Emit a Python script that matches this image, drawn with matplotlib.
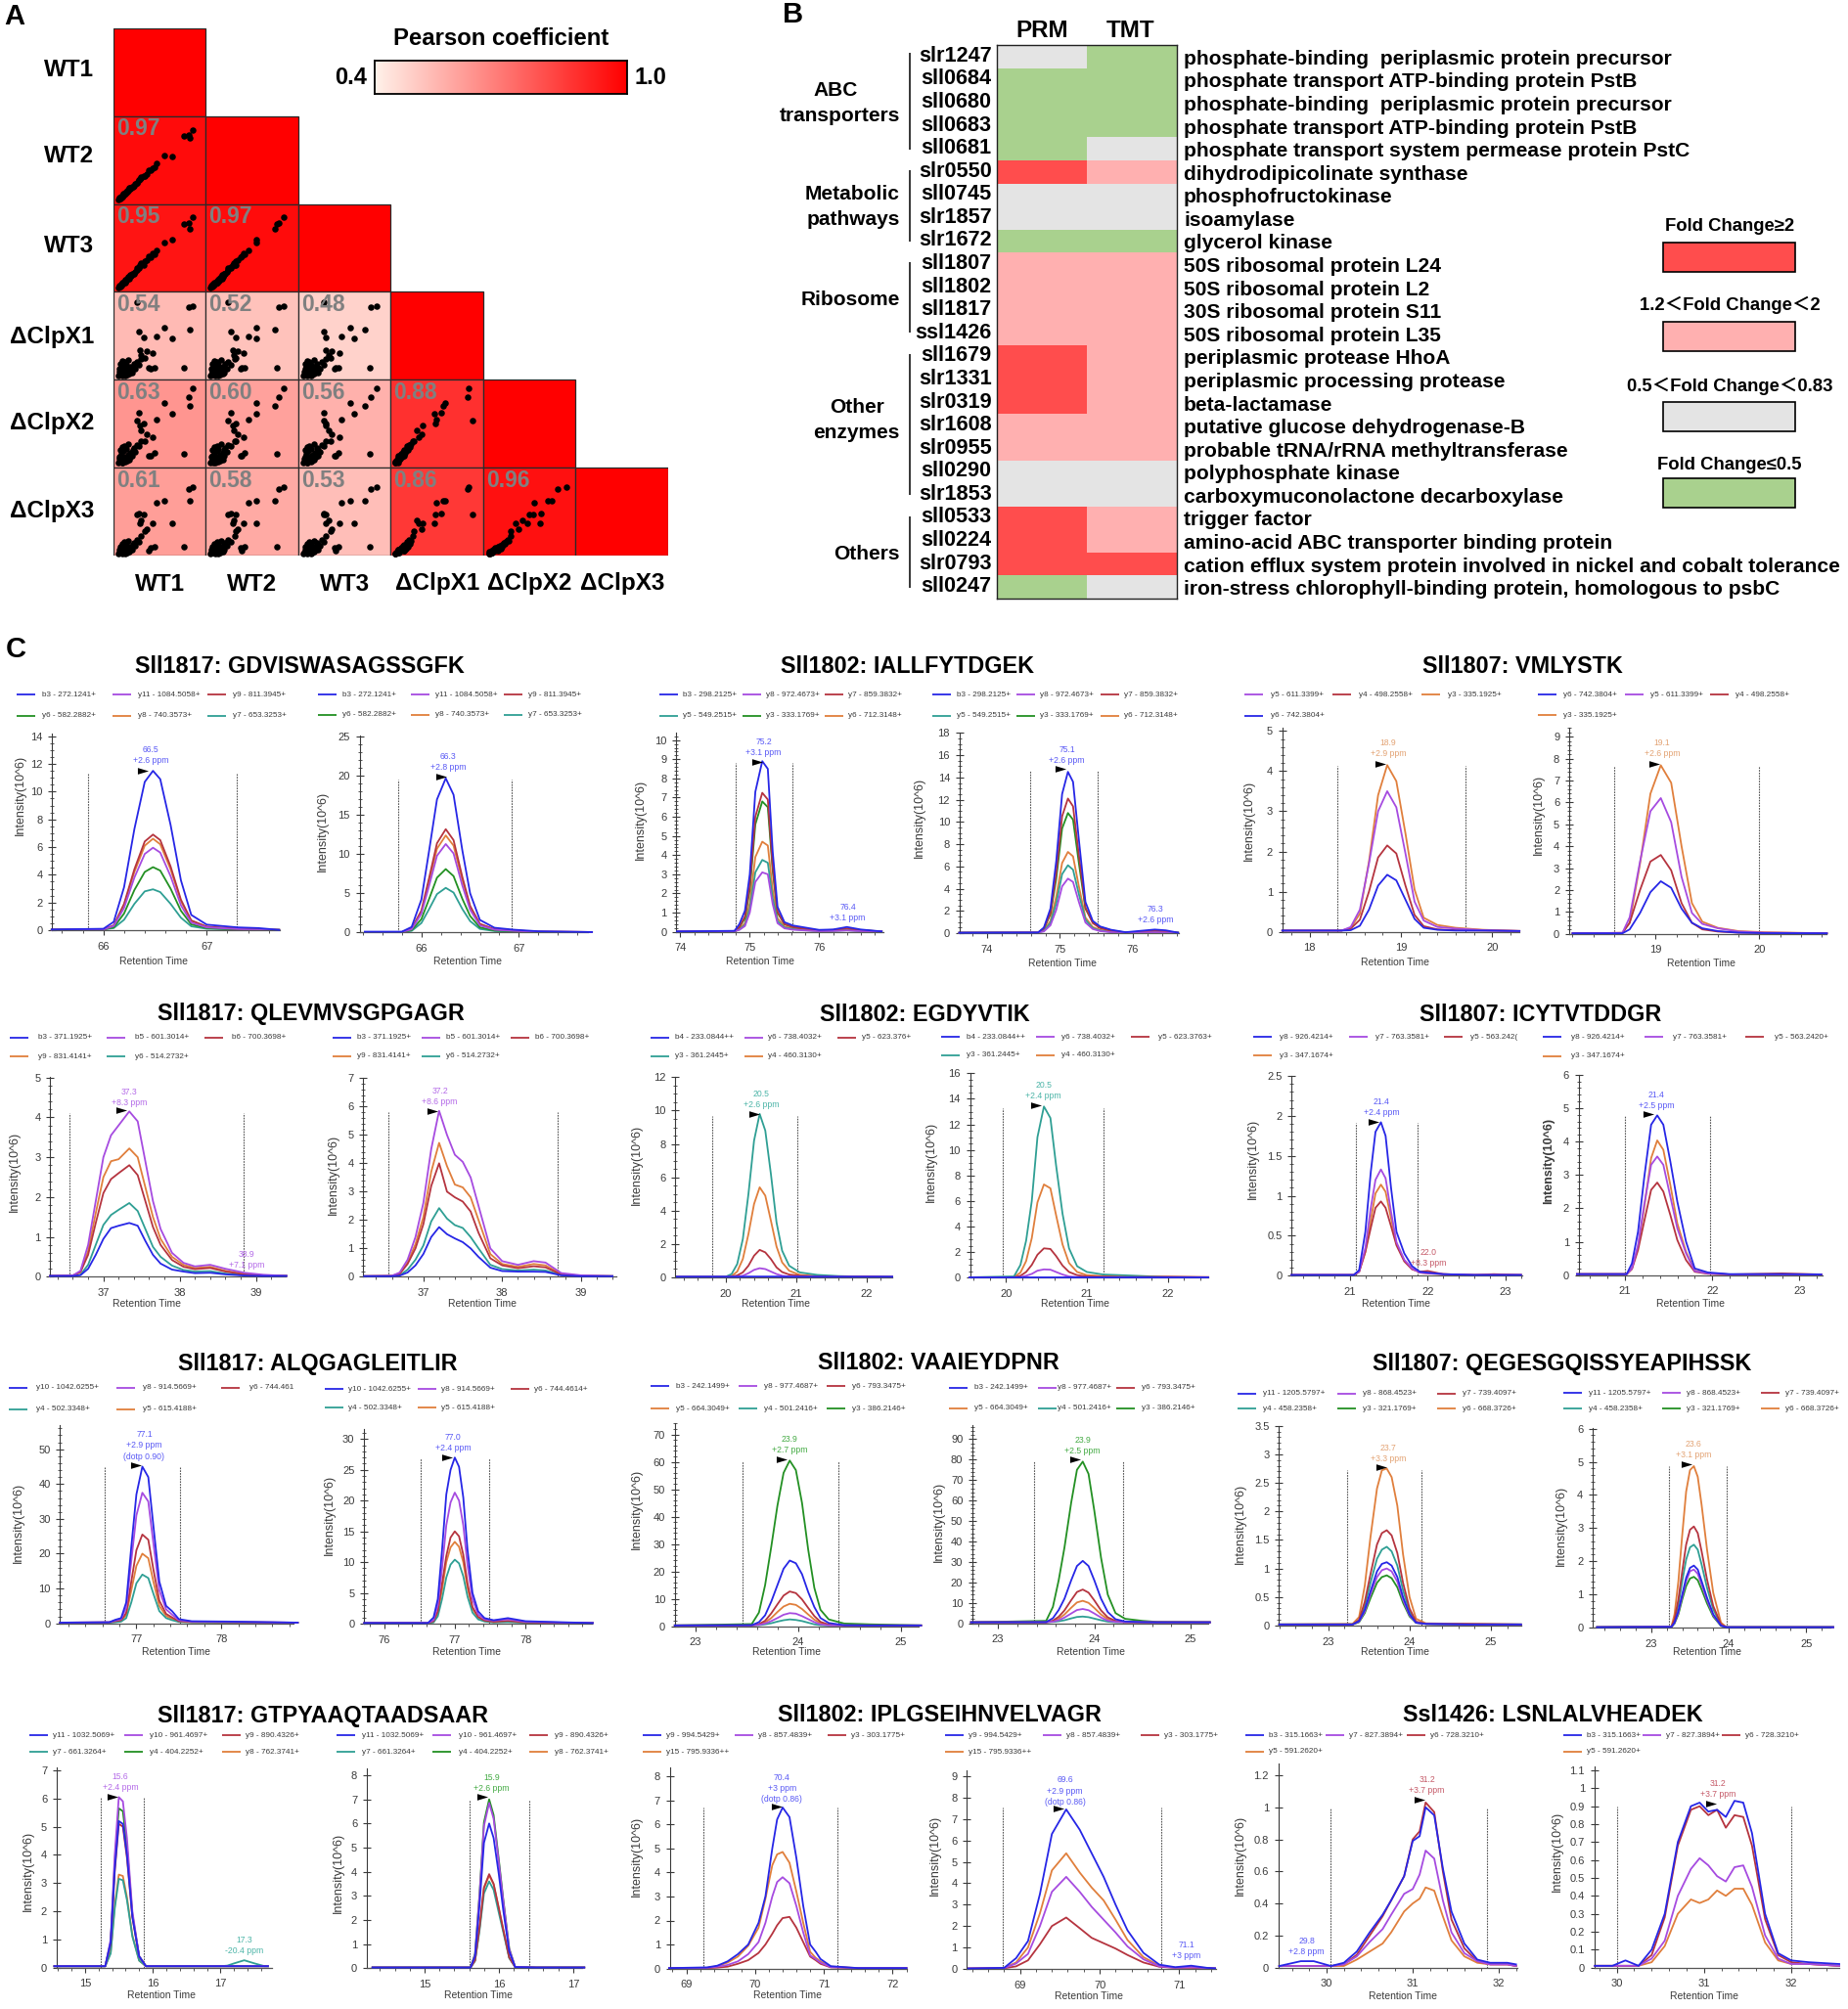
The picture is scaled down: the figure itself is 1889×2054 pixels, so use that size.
#!/usr/bin/env python3

import numpy as np
import matplotlib
matplotlib.use("Agg")
import matplotlib.pyplot as plt
from matplotlib.colors import LinearSegmentedColormap, ListedColormap, BoundaryNorm
from matplotlib.patches import Rectangle
from matplotlib.ticker import MultipleLocator

plt.rcParams["font.family"] = ["Liberation Sans", "Noto Sans CJK SC", "DejaVu Sans"]

# =========================
# Panel A values
# =========================
samples = ["WT1", "WT2", "WT3", "ΔClpX1", "ΔClpX2", "ΔClpX3"]
pearson = [
    [1.0],
    [0.97, 1.0],
    [0.95, 0.97, 1.0],
    [0.54, 0.52, 0.48, 1.0],
    [0.63, 0.60, 0.56, 0.88, 1.0],
    [0.61, 0.58, 0.53, 0.86, 0.96, 1.0],
]
# relative abundance of each protein per sample
wt1 = [.86,.81,.83,.76,.63,.55,.47,.44,.42,.40,.38,.36,.34,.33,.30,.29,.28,.25,.05,.07,.08,.09,.10,.11,.12,.13,.14,.15,.16,.17,.18,.19,.21,.22,.23,.25,.27,.30,.06,.07,.08,.09,.10,.11,.12,.13,.14,.15,.16,.17,.18,.20,.06,.08]
wt2 = [.84,.79,.75,.77,.54,.55,.46,.42,.41,.38,.39,.34,.32,.32,.30,.29,.27,.24,.05,.06,.08,.08,.09,.11,.11,.12,.14,.14,.15,.17,.18,.19,.20,.21,.23,.24,.27,.31,.06,.07,.09,.09,.10,.12,.12,.13,.13,.15,.16,.18,.17,.20,.07,.07]
wt3 = [.85,.78,.72,.77,.60,.56,.47,.43,.44,.39,.40,.36,.35,.30,.33,.30,.27,.27,.05,.06,.07,.09,.09,.10,.12,.11,.13,.15,.16,.15,.18,.18,.21,.20,.23,.25,.28,.30,.07,.07,.08,.10,.09,.11,.12,.14,.14,.15,.17,.17,.19,.21,.06,.08]
x1 = [.84,.83,.57,.14,.47,.59,.49,.14,.30,.12,.14,.33,.25,.48,.28,.34,.55,.88,.05,.06,.07,.08,.08,.09,.10,.08,.11,.09,.13,.12,.15,.11,.14,.18,.13,.20,.17,.24,.12,.18,.14,.21,.05,.16,.20,.05,.17,.06,.22,.07,.10,.08,.09,.10]
x2 = [.90,.80,.70,.16,.61,.74,.55,.17,.35,.13,.13,.38,.30,.50,.42,.48,.62,.54,.06,.07,.07,.06,.09,.09,.10,.11,.12,.10,.15,.13,.17,.16,.20,.22,.18,.26,.24,.30,.12,.20,.16,.23,.06,.19,.24,.07,.21,.08,.27,.09,.12,.13,.10,.13]
x3 = [.78,.75,.62,.10,.37,.62,.60,.10,.37,.09,.05,.30,.28,.47,.40,.36,.48,.47,.02,.03,.03,.04,.03,.05,.05,.06,.07,.05,.08,.07,.10,.09,.12,.14,.11,.18,.15,.22,.07,.10,.05,.13,.02,.08,.15,.02,.12,.03,.17,.04,.06,.06,.03,.06]
sample_values = [wt1, wt2, wt3, x1, x2, x3]

# =========================
# Panel B values
# =========================
genes = ["slr1247", "sll0684", "sll0680", "sll0683", "sll0681", "slr0550", "sll0745", "slr1857",
         "slr1672", "sll1807", "sll1802", "sll1817", "ssl1426", "sll1679", "slr1331", "slr0319",
         "slr1608", "slr0955", "sll0290", "slr1853", "sll0533", "sll0224", "slr0793", "sll0247"]
descriptions = [
    "phosphate-binding  periplasmic protein precursor",
    "phosphate transport ATP-binding protein PstB",
    "phosphate-binding  periplasmic protein precursor",
    "phosphate transport ATP-binding protein PstB",
    "phosphate transport system permease protein PstC",
    "dihydrodipicolinate synthase",
    "phosphofructokinase",
    "isoamylase",
    "glycerol kinase",
    "50S ribosomal protein L24",
    "50S ribosomal protein L2",
    "30S ribosomal protein S11",
    "50S ribosomal protein L35",
    "periplasmic protease HhoA",
    "periplasmic processing protease",
    "beta-lactamase",
    "putative glucose dehydrogenase-B",
    "probable tRNA/rRNA methyltransferase",
    "polyphosphate kinase",
    "carboxymuconolactone decarboxylase",
    "trigger factor",
    "amino-acid ABC transporter binding protein",
    "cation efflux system protein involved in nickel and cobalt tolerance",
    "iron-stress chlorophyll-binding protein, homologous to psbC",
]
# 3: FC>=2, 2: 1.2<FC<2, 1: 0.5<FC<0.83, 0: FC<=0.5
prm_class = [1, 0, 0, 0, 0, 3, 1, 1, 0, 2, 2, 2, 2, 3, 3, 3, 2, 2, 1, 1, 3, 3, 3, 0]
tmt_class = [0, 0, 0, 0, 1, 2, 1, 1, 0, 2, 2, 2, 2, 2, 2, 2, 2, 2, 1, 1, 2, 2, 3, 1]
legend_names = ["Fold Change≥2", "1.2＜Fold Change＜2", "0.5＜Fold Change＜0.83", "Fold Change≤0.5"]

# =========================
# Panel C values, retention time and intensity(10^6)
# =========================
r1a_title = "Sll1817: GDVISWASAGSSGFK"
r1a_ions = ["b3 - 272.1241+", "y11 - 1084.5058+", "y9 - 811.3945+", "y6 - 582.2882+", "y8 - 740.3573+", "y7 - 653.3253+"]
r1a_rt = [65.5,66.0,66.1,66.2,66.3,66.4,66.48,66.55,66.65,66.75,66.85,67.0,67.3,67.5,67.7]
r1a_int = [
    [.05,.1,.6,3.1,7.3,10.7,11.5,10.9,7.6,3.6,1.1,.4,.2,.15,.02],
    [.03,.05,.3,1.6,3.8,5.5,5.95,5.6,3.9,1.8,.55,.2,.08,.03,.02],
    [.03,.05,.35,1.9,4.4,6.4,6.9,6.5,4.6,2.2,.7,.25,.1,.05,.02],
    [.03,.05,.2,1.2,2.9,4.2,4.55,4.3,3.0,1.4,.42,.15,.05,.03,.02],
    [.03,.05,.3,1.8,4.2,6.1,6.6,6.2,4.4,2.1,.68,.25,.1,.05,.02],
    [.03,.05,.15,.75,1.9,2.8,2.95,2.75,1.9,.9,.28,.1,.04,.02,.02],
]
r1b_rt = [65.42,65.8,65.9,66.0,66.08,66.16,66.25,66.33,66.42,66.5,66.6,66.75,66.95,67.2,67.75]
r1b_int = [
    [.1,.1,.7,4.2,10.5,17.0,19.7,17.6,10.5,5.0,1.6,.6,.35,.15,.05],
    [.05,.05,.4,2.4,6.0,9.8,11.3,10.1,6.0,2.9,.9,.35,.2,.1,.05],
    [.05,.05,.5,2.8,7.0,11.4,13.2,11.8,7.1,3.4,1.1,.4,.25,.1,.05],
    [.05,.05,.3,1.7,4.3,7.0,8.1,7.2,4.3,2.1,.65,.25,.15,.05,.05],
    [.05,.05,.45,2.6,6.6,10.7,12.4,11.1,6.7,3.2,1.05,.4,.25,.1,.05],
    [.05,.05,.2,1.2,3.0,4.9,5.7,5.1,3.0,1.45,.45,.18,.1,.05,.05],
]
r1c_title = "Sll1802: IALLFYTDGEK"
r1c_ions = ["b3 - 298.2125+", "y8 - 972.4673+", "y7 - 859.3832+", "y5 - 549.2515+", "y3 - 333.1769+", "y6 - 712.3148+"]
r1c_rt = [73.95,74.78,74.85,74.93,75.0,75.08,75.18,75.26,75.33,75.4,75.5,75.62,75.8,76.0,76.2,76.4,76.6,76.9]
r1c_int = [
    [.02,.05,.4,1.1,3.0,7.3,8.9,8.5,4.2,1.3,.5,.33,.22,.1,.12,.25,.12,.02],
    [.02,.03,.1,.3,1.0,2.6,3.1,3.0,1.45,.45,.18,.11,.07,.03,.04,.07,.03,.02],
    [.02,.03,.25,.8,2.4,6.0,7.25,6.9,3.4,1.05,.4,.25,.15,.07,.1,.17,.08,.02],
    [.02,.03,.12,.35,1.2,3.1,3.75,3.6,1.75,.55,.22,.14,.08,.04,.05,.08,.04,.02],
    [.02,.03,.25,.7,2.2,5.6,6.8,6.5,3.2,1.0,.4,.25,.15,.07,.08,.15,.07,.02],
    [.02,.03,.15,.45,1.5,3.9,4.7,4.5,2.2,.7,.28,.17,.1,.05,.06,.1,.05,.02],
]
r1d_rt = [73.62,74.7,74.78,74.87,74.95,75.03,75.11,75.18,75.26,75.35,75.45,75.55,75.7,75.9,76.1,76.3,76.45,76.62]
r1d_int = [
    [.03,.05,.5,2.2,6.5,12.5,14.5,13.6,8.4,2.8,1.1,.6,.3,.08,.2,.32,.25,.04],
    [.03,.05,.15,.7,2.1,4.2,4.9,4.6,2.8,.95,.37,.18,.08,.03,.05,.07,.05,.03],
    [.03,.05,.4,1.8,5.4,10.5,12.1,11.4,7.0,2.3,.9,.45,.2,.05,.12,.2,.15,.03],
    [.03,.05,.2,.9,2.7,5.3,6.1,5.7,3.5,1.2,.45,.23,.1,.03,.06,.08,.06,.03],
    [.03,.05,.4,1.7,4.9,9.4,10.8,10.2,6.3,2.2,1.0,.55,.25,.05,.1,.15,.1,.03],
    [.03,.05,.25,1.1,3.3,6.3,7.3,6.9,4.2,1.4,.55,.28,.12,.04,.08,.1,.08,.03],
]
r1e_title = "Sll1807: VMLYSTK"
r1e_ions = ["y5 - 611.3399+", "y4 - 498.2558+", "y3 - 335.1925+", "y6 - 742.3804+"]
r1e_rt = [17.7,18.35,18.45,18.55,18.65,18.75,18.85,18.95,19.05,19.15,19.25,19.4,19.6,19.9,20.3]
r1e_int = [
    [.03,.03,.12,.55,1.7,3.0,3.5,3.1,1.95,.75,.28,.12,.08,.04,.02],
    [.03,.03,.08,.3,1.0,1.85,2.15,1.95,1.15,.42,.14,.06,.04,.03,.02],
    [.03,.03,.1,.45,1.75,3.4,4.15,3.75,2.45,1.05,.35,.17,.1,.05,.02],
    [.03,.03,.04,.15,.55,1.15,1.42,1.28,.8,.32,.1,.05,.03,.03,.02],
]
r1f_ions = ["y6 - 742.3804+", "y5 - 611.3399+", "y4 - 498.2558+", "y3 - 335.1925+"]
r1f_rt = [18.2,18.68,18.75,18.85,18.95,19.05,19.15,19.25,19.35,19.45,19.6,19.8,20.05,20.65]
r1f_int = [
    [.02,.02,.2,.95,1.9,2.4,2.1,1.15,.5,.25,.12,.05,.03,.02],
    [.02,.04,.75,3.3,5.6,6.2,5.1,2.6,.95,.45,.25,.1,.05,.02],
    [.02,.04,.5,2.0,3.3,3.6,2.9,1.4,.5,.2,.1,.05,.03,.02],
    [.02,.04,.5,3.2,6.4,7.7,6.9,4.0,1.4,.55,.27,.12,.07,.02],
]

r2a_title = "Sll1817: QLEVMVSGPGAGR"
r2a_ions = ["b3 - 371.1925+", "b5 - 601.3014+", "b6 - 700.3698+", "y9 - 831.4141+", "y6 - 514.2732+"]
r2a_rt = [36.3,36.6,36.7,36.8,36.9,37.0,37.1,37.2,37.34,37.45,37.55,37.65,37.75,37.9,38.05,38.2,38.4,38.6,38.85,39.1,39.4]
r2a_int = [
    [.02,.02,.04,.2,.55,.95,1.22,1.28,1.35,1.28,.9,.55,.33,.18,.13,.09,.1,.06,.03,.02,.02],
    [.02,.03,.15,.8,1.9,3.0,3.55,3.8,4.15,3.9,2.9,1.9,1.2,.6,.35,.26,.3,.2,.1,.05,.02],
    [.02,.03,.12,.55,1.35,2.1,2.45,2.6,2.8,2.55,1.9,1.25,.8,.42,.25,.19,.22,.13,.06,.03,.02],
    [.02,.03,.12,.65,1.6,2.5,2.9,2.95,3.22,3.0,2.25,1.5,.95,.5,.3,.22,.25,.15,.07,.03,.02],
    [.02,.02,.05,.3,.8,1.3,1.55,1.68,1.85,1.65,1.2,.75,.5,.28,.17,.13,.14,.08,.04,.02,.02],
]
r2b_rt = [36.25,36.6,36.7,36.8,36.9,37.0,37.1,37.2,37.3,37.4,37.5,37.6,37.7,37.85,38.0,38.2,38.4,38.55,38.75,39.0,39.4]
r2b_int = [
    [.02,.02,.04,.15,.4,.8,1.4,1.75,1.5,1.35,1.22,1.0,.7,.32,.2,.18,.18,.17,.05,.02,.02],
    [.02,.03,.15,.6,1.4,2.6,4.5,5.85,5.0,4.3,4.05,3.5,2.5,1.0,.55,.42,.55,.5,.13,.05,.02],
    [.02,.03,.1,.45,1.0,1.85,3.2,4.0,3.0,2.8,2.65,2.3,1.55,.65,.4,.3,.37,.33,.08,.03,.02],
    [.02,.03,.12,.5,1.15,2.1,3.7,4.72,3.9,3.25,3.15,2.8,2.0,.8,.45,.35,.45,.4,.1,.03,.02],
    [.02,.02,.05,.25,.6,1.1,1.95,2.42,2.05,1.82,1.72,1.4,1.0,.42,.27,.22,.25,.22,.06,.02,.02],
]
r2c_title = "Sll1802: EGDYVTIK"
r2c_ions = ["b4 - 233.0844++", "y6 - 738.4032+", "y5 - 623.376+", "y3 - 361.2445+", "y4 - 460.3130+"]
r2c_rt = [19.3,20.0,20.08,20.16,20.24,20.32,20.4,20.48,20.56,20.64,20.72,20.8,20.9,21.05,21.3,21.6,22.0,22.37]
r2c_int = [
    [.04,.04,.04,.04,.04,.05,.05,.05,.05,.05,.05,.04,.04,.04,.04,.04,.04,.04],
    [.03,.03,.03,.05,.1,.25,.45,.55,.5,.35,.2,.1,.05,.04,.03,.03,.03,.03],
    [.03,.03,.05,.12,.3,.7,1.3,1.65,1.5,1.1,.6,.32,.17,.1,.05,.04,.06,.03],
    [.03,.05,.2,.8,2.3,5.0,8.2,9.8,8.8,6.2,3.3,1.6,.7,.3,.15,.08,.04,.03],
    [.03,.03,.08,.35,1.1,2.6,4.4,5.4,4.9,3.4,1.85,.9,.4,.15,.08,.05,.04,.03],
]
r2d_ions = ["b4 - 233.0844++", "y6 - 738.4032+", "y5 - 623.3763+", "y3 - 361.2445+", "y4 - 460.3130+"]
r2d_rt = [19.55,20.1,20.18,20.25,20.32,20.39,20.47,20.55,20.62,20.7,20.78,20.88,21.0,21.2,21.5,22.0,22.5]
r2d_int = [
    [.03,.03,.03,.03,.03,.03,.03,.03,.03,.03,.03,.03,.03,.03,.03,.03,.03],
    [.03,.03,.05,.15,.3,.55,.65,.63,.45,.25,.1,.05,.04,.03,.03,.03,.03],
    [.03,.03,.15,.45,1.0,1.8,2.3,2.25,1.7,.95,.45,.2,.1,.08,.05,.08,.05],
    [.03,.1,1.0,2.9,6.0,11.0,13.4,12.5,8.8,5.0,2.3,.9,.45,.25,.18,.05,.03],
    [.03,.05,.4,1.3,3.1,5.9,7.3,7.0,4.9,2.6,1.15,.45,.2,.12,.08,.05,.03],
]
r2e_title = "Sll1807: ICYTVTDDGR"
r2e_ions = ["y8 - 926.4214+", "y7 - 763.3581+", "y5 - 563.242(", "y3 - 347.1674+"]
r2e_rt = [20.25,21.05,21.12,21.2,21.27,21.33,21.4,21.46,21.53,21.6,21.7,21.8,21.9,22.0,22.2,22.6,22.85,23.2]
r2e_int = [
    [.01,.01,.07,.55,1.3,1.8,1.92,1.75,1.1,.55,.28,.12,.05,.04,.02,.01,.01,.01],
    [.01,.01,.05,.35,.85,1.2,1.33,1.22,.8,.42,.2,.09,.04,.03,.02,.01,.01,.01],
    [.01,.01,.05,.3,.6,.85,.93,.85,.62,.38,.18,.08,.05,.06,.02,.01,.02,.01],
    [.01,.01,.05,.3,.7,1.03,1.14,1.05,.72,.4,.19,.09,.04,.03,.02,.01,.01,.01],
]
r2f_ions = ["y8 - 926.4214+", "y7 - 763.3581+", "y5 - 563.2420+", "y3 - 347.1674+"]
r2f_rt = [20.45,21.02,21.08,21.15,21.22,21.3,21.37,21.44,21.52,21.6,21.7,21.8,21.95,22.2,22.8,23.25]
r2f_int = [
    [.03,.03,.35,1.3,2.9,4.5,4.78,4.5,3.4,2.2,1.0,.2,.08,.03,.03,.02],
    [.03,.03,.2,.9,2.1,3.3,3.55,3.3,2.35,1.4,.65,.12,.05,.02,.02,.02],
    [.03,.03,.18,.75,1.6,2.55,2.77,2.5,1.8,1.05,.45,.1,.04,.02,.05,.02],
    [.03,.03,.2,.85,2.0,3.5,4.03,3.75,2.7,1.55,.7,.14,.05,.02,.02,.02],
]

r3a_title = "Sll1817: ALQGAGLEITLIR"
r3a_ions = ["y10 - 1042.6255+", "y8 - 914.5669+", "y6 - 744.461", "y4 - 502.3348+", "y5 - 615.4188+"]
r3a_rt = [76.1,76.68,76.75,76.82,76.88,76.94,77.0,77.07,77.14,77.2,77.27,77.35,77.42,77.5,77.65,78.1,78.9]
r3a_int = [
    [.2,.3,1.0,1.5,6,22,37,45,42,28,12,5,3.5,1.2,.6,.5,.2],
    [.2,.3,.8,1.2,4.5,18,31,37.5,35,23,9.5,4,2.5,.9,.5,.4,.2],
    [.2,.3,.6,.9,3,12,21,25.5,24,15.5,6.5,2.7,1.7,.6,.4,.3,.2],
    [.2,.2,.3,.5,1.5,6,11.5,14,13,8.5,3.5,1.5,.9,.4,.3,.2,.2],
    [.2,.2,.5,.7,2.4,9.5,16.5,20,18.7,12,5,2.1,1.3,.5,.3,.3,.2],
]
r3b_ions = ["y10 - 1042.6255+", "y8 - 914.5669+", "y6 - 744.4614+", "y4 - 502.3348+", "y5 - 615.4188+"]
r3b_rt = [75.72,76.62,76.7,76.76,76.82,76.88,76.94,77.0,77.06,77.12,77.18,77.25,77.33,77.42,77.55,77.75,78.0,78.6,78.95]
r3b_int = [
    [.1,.1,1.0,4.0,12,21,25,27,25.5,20.5,12,5,2,.9,.55,.9,.4,.2,.1],
    [.1,.1,.6,3,9,16,19.7,21.3,20,16,9.5,4,1.5,.7,.5,.7,.3,.15,.1],
    [.1,.1,.4,2,6.5,11,14,15,14.2,11.2,6.5,2.7,1.1,.5,.3,.45,.2,.1,.1],
    [.1,.1,.2,1.2,4,7.5,9.6,10.4,9.8,7.7,4.4,1.8,.7,.35,.2,.25,.15,.1,.1],
    [.1,.1,.3,1.8,5.5,10,12.4,13.3,12.5,10,5.8,2.4,1,.45,.25,.35,.2,.1,.1],
]
r3c_title = "Sll1802: VAAIEYDPNR"
r3c_ions = ["b3 - 242.1499+", "y8 - 977.4687+", "y6 - 793.3475+", "y5 - 664.3049+", "y4 - 501.2416+", "y3 - 386.2146+"]
r3c_rt = [22.8,23.55,23.62,23.68,23.74,23.8,23.86,23.92,23.98,24.04,24.1,24.16,24.22,24.3,24.45,24.7,25.2]
r3c_int = [
    [.3,.4,1.5,4,9,15,21,24,23,19,12.5,7,3,1.2,.4,.3,.3],
    [.3,.3,.5,1,1.9,3,4.2,4.8,4.6,3.7,2.6,1.5,.7,.3,.3,.3,.3],
    [.3,.3,.8,2,4.7,8,11.2,12.7,12.1,9.8,6.7,3.7,1.6,.6,.3,.3,.3],
    [.3,.3,.6,1.4,3,5.2,7.2,8.2,7.8,6.3,4.3,2.4,1.1,.5,.3,.3,.3],
    [.3,.3,.4,.7,1.1,1.7,2.2,2.5,2.3,1.9,1.3,.7,.4,.3,.3,.3,.3],
    [.3,.8,5,15,29,44,56,60.5,57,45,28,14,6,2.5,1,.7,.3],
]
r3d_rt = [22.72,23.5,23.57,23.63,23.69,23.76,23.82,23.88,23.94,24.0,24.07,24.14,24.22,24.32,24.5,24.65,25.2]
r3d_int = [
    [.5,.6,2.5,6.5,12,21,28,30.5,28,21,12,5.5,2,.9,.6,.5,.5],
    [.5,.5,.8,1.5,2.8,4.8,6.5,7,6.4,4.8,2.8,1.3,.7,.5,.5,.5,.5],
    [.5,.5,1.3,3.2,6.3,11.3,15.3,16.5,15,11.2,6.3,2.9,1.2,.6,.5,.5,.5],
    [.5,.5,1,2.2,4.3,7.6,10.2,11,10,7.5,4.3,2,.9,.5,.5,.5,.5],
    [.5,.5,.7,1,1.5,2.4,3.1,3.3,3,2.3,1.5,.8,.5,.5,.5,.5,.5],
    [.5,1.2,8,21,37,59,75,79,73,55,32,14,5,2.2,1.2,.7,.5],
]
r3e_title = "Sll1807: QEGESGQISSYEAPIHSSK"
r3e_ions = ["y11 - 1205.5797+", "y8 - 868.4523+", "y7 - 739.4097+", "y4 - 458.2358+", "y3 - 321.1769+", "y6 - 668.3726+"]
r3e_rt = [22.4,23.3,23.38,23.45,23.52,23.6,23.66,23.72,23.78,23.85,23.92,24.0,24.08,24.2,24.7,25.37]
r3e_int = [
    [.02,.02,.08,.28,.6,.95,1.08,1.11,1.05,.85,.5,.2,.05,.03,.02,.02],
    [.02,.02,.07,.25,.55,.85,.97,1.0,.95,.77,.45,.18,.05,.03,.02,.02],
    [.02,.02,.1,.42,.9,1.42,1.62,1.67,1.58,1.27,.75,.3,.07,.03,.03,.02],
    [.02,.02,.09,.35,.75,1.17,1.33,1.38,1.3,1.05,.62,.25,.06,.03,.02,.02],
    [.02,.02,.06,.22,.48,.75,.85,.88,.83,.67,.4,.16,.05,.03,.02,.02],
    [.02,.03,.15,.7,1.55,2.4,2.72,2.75,2.6,2.1,1.25,.5,.12,.04,.03,.02],
]
r3f_rt = [22.3,23.26,23.3,23.35,23.4,23.45,23.5,23.55,23.6,23.65,23.72,23.8,23.9,23.97,25.35]
r3f_int = [
    [.01,.02,.15,.5,1,1.5,1.8,1.87,1.75,1.4,.9,.4,.06,.01,.01],
    [.01,.02,.14,.45,.95,1.4,1.7,1.75,1.62,1.3,.83,.37,.06,.01,.01],
    [.01,.02,.25,.85,1.7,2.5,2.95,3.05,2.85,2.3,1.45,.65,.1,.01,.01],
    [.01,.02,.2,.7,1.4,2.05,2.42,2.5,2.35,1.9,1.2,.55,.08,.01,.01],
    [.01,.02,.12,.4,.85,1.25,1.48,1.53,1.43,1.15,.73,.33,.05,.01,.01],
    [.01,.03,.4,1.4,2.8,4.1,4.75,4.87,4.55,3.7,2.35,1.05,.15,.01,.01],
]

r4a_title = "Sll1817: GTPYAAQTAADSAAR"
r4a_ions = ["y11 - 1032.5069+", "y10 - 961.4697+", "y9 - 890.4326+", "y7 - 661.3264+", "y4 - 404.2252+", "y8 - 762.3741+"]
r4a_rt = [14.55,15.3,15.38,15.44,15.5,15.56,15.62,15.7,15.8,15.9,16.5,17.0,17.1,17.2,17.35,17.5,17.65,17.7]
r4a_int = [
    [.05,.05,.9,3.5,5.2,5.1,4.0,1.8,.4,.05,.05,.05,.05,.05,.05,.05,.05,.05],
    [.05,.05,1.0,4.0,6.05,5.9,4.6,2.0,.4,.05,.05,.05,.05,.05,.05,.05,.05,.05],
    [.05,.05,.85,3.4,5.1,5.0,3.9,1.8,.4,.05,.05,.05,.05,.05,.05,.05,.05,.05],
    [.05,.05,.5,2.1,3.15,3.1,2.4,1.1,.25,.05,.05,.05,.07,.15,.26,.15,.05,.05],
    [.05,.05,.9,3.7,5.65,5.55,4.3,1.9,.4,.05,.05,.05,.05,.05,.05,.05,.05,.05],
    [.05,.05,.55,2.2,3.3,3.25,2.5,1.15,.25,.05,.05,.05,.05,.05,.05,.05,.05,.05],
]
r4b_rt = [14.3,15.62,15.68,15.74,15.8,15.87,15.93,16.0,16.06,16.14,16.22,16.5,17.15]
r4b_int = [
    [.03,.03,.5,2.6,5.2,6.0,5.4,3.9,2.4,.7,.05,.03,.03],
    [.03,.03,.55,3.0,5.9,6.85,6.2,4.4,2.8,.8,.05,.03,.03],
    [.03,.03,.33,1.7,3.35,3.9,3.5,2.5,1.6,.45,.05,.03,.03],
    [.03,.03,.3,1.55,3.1,3.6,3.25,2.3,1.5,.42,.05,.03,.03],
    [.03,.03,.6,3.05,6.05,7.0,6.35,4.5,2.85,.82,.05,.03,.03],
    [.03,.03,.33,1.65,3.3,3.85,3.48,2.47,1.58,.45,.05,.03,.03],
]
r4c_title = "Sll1802: IPLGSEIHNVELVAGR"
r4c_ions = ["y9 - 994.5429+", "y8 - 857.4839+", "y3 - 303.1775+", "y15 - 795.9336++"]
r4c_rt = [68.75,69.3,69.45,69.6,69.75,69.9,70.05,70.15,70.25,70.32,70.4,70.5,70.6,70.7,70.8,70.88,70.95,71.1,71.5,72.2]
r4c_int = [
    [.02,.05,.12,.3,.6,1.0,1.9,3.0,5.0,6.2,6.7,6.3,4.6,2.6,1.0,.7,.4,.1,.02,.02],
    [.02,.03,.08,.15,.3,.6,1.1,1.9,3.0,3.6,3.8,3.55,2.6,1.5,.55,.4,.25,.06,.02,.02],
    [.02,.02,.04,.08,.2,.35,.65,1.0,1.45,1.8,2.1,2.15,1.7,1.1,.5,.35,.2,.05,.02,.02],
    [.02,.03,.1,.25,.5,.95,1.7,2.9,4.3,4.75,4.85,4.4,3.2,1.9,.7,.45,.3,.08,.02,.02],
]
r4d_rt = [68.35,68.8,68.95,69.1,69.25,69.4,69.58,69.75,69.9,70.05,70.2,70.35,70.55,70.75,70.95,71.15,71.35,71.45]
r4d_int = [
    [.02,.05,.5,1.3,3.5,6.3,7.45,6.5,5.4,4.3,3.0,1.8,.75,.2,.08,.15,.05,.03],
    [.02,.04,.25,.7,2.0,3.6,4.3,3.6,2.9,2.3,1.7,1.05,.45,.12,.05,.08,.03,.02],
    [.02,.03,.12,.4,1.15,2.0,2.4,1.9,1.45,1.2,.95,.65,.3,.1,.05,.05,.03,.02],
    [.02,.05,.3,1.0,2.6,4.6,5.4,4.5,3.8,3.2,2.3,1.35,.55,.15,.06,.1,.04,.02],
]
r4e_title = "Ssl1426: LSNLALVHEADEK"
r4e_ions = ["b3 - 315.1663+", "y7 - 827.3894+", "y6 - 728.3210+", "y5 - 591.2620+"]
r4e_rt = [29.45,29.7,29.85,30.05,30.2,30.35,30.5,30.65,30.75,30.9,31.0,31.08,31.15,31.25,31.35,31.45,31.6,31.75,31.9,32.1,32.2]
r4e_int = [
    [.01,.04,.04,.01,.03,.1,.22,.33,.42,.57,.79,.82,1.0,.95,.62,.35,.15,.05,.03,.03,.02],
    [.01,.01,.01,.01,.02,.07,.16,.24,.33,.46,.49,.58,.73,.68,.42,.22,.09,.04,.02,.02,.01],
    [.01,.01,.01,.01,.02,.08,.2,.32,.42,.57,.8,.85,1.03,.97,.6,.3,.12,.04,.02,.02,.01],
    [.01,.01,.01,.01,.01,.05,.1,.15,.22,.35,.4,.43,.5,.48,.32,.17,.07,.03,.02,.02,.01],
]
r4f_rt = [29.75,29.95,30.1,30.25,30.4,30.55,30.7,30.85,30.95,31.05,31.15,31.25,31.35,31.45,31.55,31.7,31.85,32.0,32.2,32.55]
r4f_int = [
    [.01,.01,.04,.01,.1,.3,.7,.9,.92,.87,.88,.84,.93,.92,.75,.3,.08,.04,.03,.02],
    [.01,.01,.01,.01,.05,.15,.4,.55,.61,.57,.51,.48,.56,.57,.45,.18,.05,.02,.02,.01],
    [.01,.01,.01,.01,.07,.28,.68,.88,.9,.85,.88,.78,.85,.84,.68,.27,.07,.03,.02,.01],
    [.01,.01,.01,.01,.03,.12,.3,.38,.36,.38,.43,.4,.44,.44,.35,.14,.04,.02,.02,.01],
]

# =========================
# Styles
# =========================
LINE = {"b": "#2626e6", "p": "#a64be0", "r": "#b5343f", "g": "#239023", "o": "#e07f3c", "t": "#2f9f94"}
NOTE = {"b": "#5a5af5", "p": "#b46be8", "r": "#c55a68", "g": "#45ab45", "o": "#e3a374", "t": "#4db5a8"}
FC_COLORS = ["#a9d18e", "#e4e4e4", "#ffb0b0", "#ff4d4d"]
INK = "#3a3a3a"
KX, KY = 0.4018, 1 / 3  # crop units to pixels
KX4 = 1.2054

# layout measured on crops of the picture: crop = origin and scale, the rest in crop units
charts = [
    dict(rt=r1a_rt, ints=r1a_int, ions=r1a_ions, c="bprgot", xt=[66, 67], yt=(14, 2, .5), bounds=(65.85, 67.29), btop=11.37,
         arrow=(66.38, 11.5), crop=(0, 650, KX, KY), box=(133, 712, 903, 300), xref=(66, 263, 67, 526), yref=(14, 308),
         xlab=(390, 998), ylab=(53, 490), cols=(42, 285, 528), txts=(107, 350, 593), rows=(180, 245),
         notes=[("66.5\n+2.6 ppm", 383, 366, "b")]),
    dict(rt=r1b_rt, ints=r1b_int, ions=r1a_ions, c="bprgot", xt=[66, 67], yt=(25, 5, 1), bounds=(65.76, 66.93), btop=19.6,
         arrow=(66.2, 19.9), crop=(0, 650, KX, KY), box=(915, 1497, 910, 305), xref=(66, 1072, 67, 1320), yref=(25, 310),
         xlab=(1190, 998), ylab=(820, 600), cols=(808, 1045, 1282), txts=(872, 1108, 1345), rows=(180, 243),
         notes=[("66.3\n+2.8 ppm", 1140, 386, "b")]),
    dict(rt=r1c_rt, ints=r1c_int, ions=r1c_ions, c="bprtgo", xt=[74, 75, 76], yt=(10, 1, .2), bounds=(74.79, 75.62), btop=8.8,
         arrow=(75.1, 8.88), crop=(630, 650, KX, KY), box=(153, 680, 908, 298), xref=(74, 163, 76, 516), yref=(10, 320),
         xlab=(365, 1000), ylab=(62, 563), cols=(110, 322, 530), txts=(170, 380, 590), rows=(180, 245),
         notes=[("75.2\n+3.1 ppm", 375, 342, "b"), ("76.4\n+3.1 ppm", 589, 848, "b")]),
    dict(rt=r1d_rt, ints=r1d_int, ions=r1c_ions, c="bprtgo", xt=[74, 75, 76], yt=(18, 2, .5), bounds=(74.59, 75.52), btop=14.6,
         arrow=(75.01, 14.8), crop=(630, 650, KX, KY), box=(873, 1430, 912, 298), xref=(74, 943, 76, 1314), yref=(18, 298),
         xlab=(1136, 1004), ylab=(772, 557), cols=(803, 1017, 1232), txts=(865, 1078, 1292), rows=(180, 245),
         notes=[("75.1\n+2.6 ppm", 1146, 365, "b"), ("76.3\n+2.6 ppm", 1371, 854, "b")]),
    dict(rt=r1e_rt, ints=r1e_int, ions=r1e_ions, c="prob", xt=[18, 19, 20], yt=(5, 1, .2), bounds=(18.3, 19.71), btop=4.14,
         arrow=(18.77, 4.19), crop=(1260, 650, KX, KY), box=(126, 730, 908, 282), xref=(18, 196, 20, 660), yref=(5, 292),
         xlab=(412, 1003), ylab=(42, 566), cols=(30, 255, 480), txts=(97, 322, 547), rows=(180, 245),
         notes=[("18.9\n+2.9 ppm", 396, 346, "o")]),
    dict(rt=r1f_rt, ints=r1f_int, ions=r1f_ions, c="bpro", xt=[19, 20], yt=(9, 1, .2), bounds=(18.6, 20.0), btop=7.66,
         arrow=(18.99, 7.78), crop=(1260, 650, KX, KY), box=(856, 1510, 914, 282), xref=(19, 1076, 20, 1340), yref=(9, 310),
         xlab=(1192, 1005), ylab=(778, 548), cols=(777, 997, 1215), txts=(842, 1062, 1280), rows=(180, 244),
         notes=[("19.1\n+2.6 ppm", 1093, 346, "o")]),

    dict(rt=r2a_rt, ints=r2a_int, ions=r2a_ions, c="bprot", xt=[37, 38, 39], yt=(5, 1, .2), bounds=(36.55, 38.84), btop=4.12,
         arrow=(37.24, 4.17), crop=(0, 1010, KX, KY), box=(128, 727, 886, 272), xref=(37, 263, 39, 651), yref=(5, 275),
         xlab=(374, 970), ylab=(38, 565), cols=(25, 272, 520), txts=(96, 343, 590), rows=(153, 211),
         notes=[("37.3\n+8.3 ppm", 329, 335, "p"), ("38.9\n+7.1 ppm", 628, 833, "p")]),
    dict(rt=r2b_rt, ints=r2b_int, ions=r2a_ions, c="bprot", xt=[37, 38, 39], yt=(7, 1, .2), bounds=(36.56, 38.7), btop=5.8,
         arrow=(37.12, 5.85), crop=(0, 1010, KX, KY), box=(924, 1568, 886, 277), xref=(37, 1077, 39, 1478), yref=(7, 277),
         xlab=(1226, 968), ylab=(848, 573), cols=(845, 1072, 1298), txts=(908, 1135, 1362), rows=(153, 209),
         notes=[("37.2\n+8.6 ppm", 1119, 334, "p")]),
    dict(rt=r2c_rt, ints=r2c_int, ions=r2c_ions, c="bprto", xt=[20, 21, 22], yt=(12, 2, .5), bounds=(19.8, 21.01), btop=9.7,
         arrow=(20.4, 9.8), crop=(630, 1010, KX, KY), box=(150, 703, 888, 272), xref=(20, 279, 22, 636), yref=(12, 274),
         xlab=(406, 968), ylab=(52, 542), cols=(88, 325, 562), txts=(150, 387, 624), rows=(153, 209),
         notes=[("20.5\n+2.6 ppm", 369, 341, "t")]),
    dict(rt=r2d_rt, ints=r2d_int, ions=r2d_ions, c="bprto", xt=[20, 21, 22], yt=(16, 2, .5), bounds=(19.96, 21.21), btop=13.3,
         arrow=(20.37, 13.5), crop=(630, 1010, KX, KY), box=(900, 1505, 889, 262), xref=(20, 991, 22, 1403), yref=(16, 262),
         xlab=(1168, 970), ylab=(800, 533), cols=(826, 1068, 1310), txts=(890, 1132, 1380), rows=(151, 207),
         notes=[("20.5\n+2.4 ppm", 1087, 315, "t")]),
    dict(rt=r2e_rt, ints=r2e_int, ions=r2e_ions, c="bpro", xt=[21, 22, 23], yt=(2.5, .5, .1), bounds=(21.08, 21.87), btop=1.91,
         arrow=(21.3, 1.93), crop=(1260, 1010, KX, KY), box=(150, 737, 883, 270), xref=(21, 298, 23, 694), yref=(2.5, 270),
         xlab=(416, 968), ylab=(52, 525), cols=(52, 295, 537), txts=(120, 363, 605), rows=(151, 208),
         notes=[("21.4\n+2.4 ppm", 378, 366, "b"), ("22.0\n+8.3 ppm", 497, 828, "r")]),
    dict(rt=r2f_rt, ints=r2f_int, ions=r2f_ions, c="bpro", xt=[21, 22, 23], yt=(6, 1, .2), bounds=(21.0, 21.97), btop=4.77,
         arrow=(21.27, 4.82), crop=(1260, 1010, KX, KY), box=(880, 1500, 881, 266), xref=(21, 998, 23, 1442), yref=(6, 266),
         xlab=(1165, 970), ylab=(803, 532), cols=(788, 1049, 1305), txts=(862, 1120, 1380), rows=(151, 209),
         notes=[("21.4\n+2.5 ppm", 1078, 344, "b")], ybold=True),

    dict(rt=r3a_rt, ints=r3a_int, ions=r3a_ions, c="bprto", xt=[77, 78], yt=(50, 10, 2), bounds=(76.63, 77.51), btop=45,
         arrow=(77.0, 45.4), crop=(0, 1370, KX, KY), box=(153, 747, 869, 260), xref=(77, 347, 78, 563), yref=(50, 335),
         xlab=(449, 957), ylab=(46, 560), cols=(22, 295, 563), txts=(93, 363, 634), rows=(146, 212),
         notes=[("77.1\n+2.9 ppm\n(dotp 0.90)", 367, 324, "b")]),
    dict(rt=r3b_rt, ints=r3b_int, ions=r3b_ions, c="bprto", xt=[76, 77, 78], yt=(30, 5, 1), bounds=(76.52, 77.49), btop=26.9,
         arrow=(76.89, 27.1), crop=(0, 1370, KX, KY), box=(926, 1505, 870, 272), xref=(76, 977, 78, 1337), yref=(30, 304),
         xlab=(1187, 957), ylab=(838, 536), cols=(826, 1062, 1298), txts=(887, 1122, 1358), rows=(151, 208),
         notes=[("77.0\n+2.4 ppm", 1153, 314, "b")]),
    dict(rt=r3c_rt, ints=r3c_int, ions=r3c_ions, c="bprotg", xt=[23, 24, 25], yt=(70, 10, 2), bounds=(23.46, 24.39), btop=60.1,
         arrow=(23.84, 61), crop=(630, 1370, KX, KY), box=(149, 768, 878, 256), xref=(23, 201, 25, 723), yref=(70, 290),
         xlab=(434, 957), ylab=(52, 520), cols=(87, 310, 535), txts=(152, 375, 600), rows=(142, 210),
         notes=[("23.9\n+2.7 ppm", 441, 322, "g")]),
    dict(rt=r3d_rt, ints=r3d_int, ions=r3c_ions, c="bprotg", xt=[23, 24, 25], yt=(90, 10, 2), bounds=(23.37, 24.3), btop=79,
         arrow=(23.8, 80), crop=(630, 1370, KX, KY), box=(906, 1505, 869, 260), xref=(23, 971, 25, 1461), yref=(90, 304),
         xlab=(1207, 957), ylab=(820, 558), cols=(847, 1073, 1273), txts=(910, 1123, 1336), rows=(147, 209),
         notes=[("23.9\n+2.5 ppm", 1186, 324, "g")]),
    dict(rt=r3e_rt, ints=r3e_int, ions=r3e_ions, c="bprtgo", xt=[23, 24, 25], yt=(3.5, .5, .1), bounds=(23.23, 24.15), btop=2.73,
         arrow=(23.65, 2.77), crop=(1260, 1370, KX, KY), box=(118, 733, 876, 263), xref=(23, 243, 25, 657), yref=(3.5, 263),
         xlab=(414, 957), ylab=(20, 565), cols=(13, 267, 520), txts=(78, 331, 586), rows=(165, 210),
         notes=[("23.7\n+3.3 ppm", 395, 347, "o")]),
    dict(rt=r3f_rt, ints=r3f_int, ions=r3e_ions, c="bprtgo", xt=[23, 24, 25], yt=(6, 1, .2), bounds=(23.23, 23.97), btop=4.86,
         arrow=(23.45, 4.92), crop=(1260, 1370, KX, KY), box=(916, 1520, 882, 270), xref=(23, 1065, 25, 1459), yref=(6, 272),
         xlab=(1208, 957), ylab=(836, 570), cols=(842, 1092, 1343), txts=(905, 1155, 1405), rows=(163, 210),
         notes=[("23.6\n+3.1 ppm", 1173, 337, "o")]),

    dict(rt=r4a_rt, ints=r4a_int, ions=r4a_ions, c="bprtgo", xt=[15, 16, 17], yt=(7, 1, 1), bounds=(15.24, 15.87), btop=6.02,
         arrow=(15.4, 6.08), crop=(0, 1730, KX4, KY), box=(48, 231, 845, 230), xref=(15, 72, 17, 187), yref=(7, 240),
         xlab=(137, 930), ylab=(24, 550), cols=(25, 105, 188), txts=(45, 127, 208), rows=(133, 184),
         notes=[("15.6\n+2.4 ppm", 102, 275, "p"), ("17.3\n-20.4 ppm", 207, 777, "t")]),
    dict(rt=r4b_rt, ints=r4b_int, ions=r4a_ions, c="bprtgo", xt=[15, 16, 17], yt=(8, 1, 1), bounds=(15.6, 16.41), btop=6.98,
         arrow=(15.78, 7.1), crop=(0, 1730, KX4, KY), box=(311, 494, 847, 235), xref=(15, 360, 17, 486), yref=(8, 255),
         xlab=(406, 930), ylab=(287, 555), cols=(285, 367, 449), txts=(307, 389, 470), rows=(133, 184),
         notes=[("15.9\n+2.6 ppm", 417, 279, "g")]),
    dict(rt=r4c_rt, ints=r4c_int, ions=r4c_ions, c="bpro", xt=[69, 70, 71, 72], yt=(8, 1, 1), bounds=(69.25, 71.2), btop=6.68,
         arrow=(70.31, 6.72), crop=(0, 1730, KX4, KY), box=(568, 769, 848, 230), xref=(69, 582, 72, 757), yref=(8, 258),
         xlab=(668, 930), ylab=(540, 505), cols=(545, 623, 702), txts=(565, 643, 722), rows=(133, 184),
         notes=[("70.4\n+3 ppm\n(dotp 0.86)", 663, 295, "b")]),
    dict(rt=r4d_rt, ints=r4d_int, ions=r4c_ions, c="bpro", xt=[69, 70, 71], yt=(9, 1, 1), bounds=(68.78, 70.78), btop=7.52,
         arrow=(69.48, 7.47), crop=(0, 1730, KX4, KY), box=(820, 1031, 849, 240), xref=(69, 865, 71, 1000), yref=(9, 258),
         xlab=(923, 932), ylab=(793, 500), cols=(801, 884, 967), txts=(821, 904, 987), rows=(133, 184),
         notes=[("69.6\n+2.9 ppm\n(dotp 0.86)", 903, 303, "b"), ("71.1\n+3 ppm", 1006, 791, "b")]),
    dict(rt=r4e_rt, ints=r4e_int, ions=r4e_ions, c="bpro", xt=[30, 31, 32], yt=(1.2, .2, .2), bounds=(30.05, 31.86), btop=.99,
         arrow=(31.08, 1.047), crop=(0, 1730, KX4, KY), box=(1084, 1287, 845, 220), xref=(30, 1125, 32, 1271), yref=(1.2, 255),
         xlab=(1190, 932), ylab=(1052, 500), cols=(1056, 1124, 1193), txts=(1076, 1144, 1213), rows=(133, 182),
         notes=[("31.2\n+3.7 ppm", 1210, 285, "r"), ("29.8\n+2.8 ppm", 1108, 781, "b")]),
    dict(rt=r4f_rt, ints=r4f_int, ions=r4e_ions, c="bpro", xt=[30, 31, 32], yt=(1.1, .1, .1), bounds=(30.0, 32.0), btop=.9,
         arrow=(31.08, .915), crop=(0, 1730, KX4, KY), box=(1352, 1560, 845, 228), xref=(30, 1371, 32, 1519), yref=(1.1, 240),
         xlab=(1445, 933), ylab=(1321, 490), cols=(1326, 1393, 1460), txts=(1346, 1413, 1480), rows=(133, 183),
         notes=[("31.2\n+3.7 ppm", 1457, 298, "r")]),
]

titles = [
    (r1a_title, 306, 681), (r1c_title, 928, 681), (r1e_title, 1556, 681),
    (r2a_title, 318, 1037), (r2c_title, 945, 1037), (r2e_title, 1575, 1037),
    (r3a_title, 325, 1394), (r3c_title, 959, 1394), (r3e_title, 1597, 1394),
    (r4a_title, 330, 1754), (r4c_title, 960, 1754), (r4e_title, 1587, 1754),
]

W, H = 1890, 2054
fig = plt.figure(figsize=(W / 100, H / 100), dpi=100)


def px_axes(left, top, right, bottom, **kw):
    return fig.add_axes([left / W, 1 - bottom / H, (right - left) / W, (bottom - top) / H], **kw)


# everything placed in picture pixels goes on this overlay
over = fig.add_axes([0, 0, 1, 1], zorder=10)
over.set_xlim(0, W)
over.set_ylim(H, 0)
over.axis("off")

for letter, x, y in [("A", 4, 17), ("B", 800, 15), ("C", 6, 664)]:
    over.text(x, y, letter, fontsize=21, fontweight="bold", va="center")


# =========================
# Panel A
# =========================
def draw_pearson():
    cell_w, cell_h = 94.5, 89.8
    left, top = 116, 29
    ax = px_axes(left, top, left + 6 * cell_w, top + 6 * cell_h)
    ax.set_xlim(0, 6)
    ax.set_ylim(6, 0)
    ax.axis("off")
    cmap = LinearSegmentedColormap.from_list("pearson", ["#fff2ea", "#ff0000"])

    for i, row in enumerate(pearson):
        for j, r in enumerate(row):
            color = cmap((r - 0.4) / 0.6)
            ax.add_patch(Rectangle((j, i), 1, 1, facecolor=color, edgecolor="#2a2a2a", lw=0.9))
            if i != j:
                ax.scatter(j + np.array(sample_values[j]), i + 1 - np.array(sample_values[i]),
                           s=22, color="black", linewidths=0, zorder=3, clip_on=False)
                over.text(left + j * cell_w + 3, top + i * cell_h + 13, f"{r:.2f}", color="#808080",
                          fontsize=16.5, fontweight="bold", va="center", ha="left")

    row_y = [71, 160, 251, 344, 432, 522]
    for name, y in zip(samples, row_y):
        over.text(96, y, name, fontsize=17.5, fontweight="bold", ha="right", va="center")
    for j, name in enumerate(samples):
        over.text(left + (j + 0.5) * cell_w, 597, name, fontsize=17.5, fontweight="bold", ha="center", va="center")

    cax = px_axes(383.5, 62, 641, 96)
    cax.imshow(np.linspace(0, 1, 256)[None, :], aspect="auto", cmap=cmap)
    cax.set_xticks([])
    cax.set_yticks([])
    for s in cax.spines.values():
        s.set_linewidth(1.3)
    over.text(512, 40, "Pearson coefficient", fontsize=17.2, fontweight="bold", ha="center", va="center")
    over.text(375, 80, "0.4", fontsize=17, fontweight="bold", ha="right", va="center")
    over.text(649, 80, "1.0", fontsize=17, fontweight="bold", ha="left", va="center")


# =========================
# Panel B
# =========================
def draw_fold_change():
    ax = px_axes(1019, 46, 1203, 612)
    codes = np.array([prm_class, tmt_class]).T
    cmap = ListedColormap(FC_COLORS)
    ax.pcolormesh(codes, cmap=cmap, norm=BoundaryNorm([-0.5, 0.5, 1.5, 2.5, 3.5], 4))
    ax.set_ylim(len(genes), 0)
    ax.set_xticks([])
    ax.set_yticks([])
    for s in ax.spines.values():
        s.set_linewidth(1.0)
        s.set_color("#222222")

    row_h = (612 - 46) / len(genes)
    for i, (gene, desc) in enumerate(zip(genes, descriptions)):
        y = 46 + (i + 0.5) * row_h
        over.text(1013.5, y - 0.5, gene, fontsize=15.6, fontweight="bold", ha="right", va="center")
        over.text(1210, y + 2.5, desc, fontsize=15.1, fontweight="bold", ha="left", va="center")

    over.text(1065, 32, "PRM", fontsize=17.5, fontweight="bold", ha="center", va="center")
    over.text(1156, 32, "TMT", fontsize=17.5, fontweight="bold", ha="center", va="center")

    for text, x, y, ha in [("ABC", 854, 93, "center"), ("transporters", 920, 119, "right"),
                           ("Metabolic", 920, 199, "right"), ("pathways", 920, 225, "right"),
                           ("Ribosome", 920, 307, "right"), ("Other", 876, 417, "center"),
                           ("enzymes", 920, 443, "right"), ("Others", 920, 567, "right")]:
        over.text(x, y, text, fontsize=15, fontweight="bold", ha=ha, va="center")
    for y0, y1 in [(54, 153), (174, 247), (268, 340), (362, 506), (528, 601)]:
        over.plot([930, 930], [y0, y1], color="black", lw=1.1, solid_capstyle="butt")

    box_tops = [248, 329, 411, 489]
    text_ys = [232, 312, 395, 475]
    for name, color, top, ty in zip(legend_names, FC_COLORS[::-1], box_tops, text_ys):
        over.add_patch(Rectangle((1700, top), 135, 29.5, facecolor=color, edgecolor="black", lw=1.2))
        over.text(1768, ty, name, fontsize=13.3, fontweight="bold", ha="center", va="center")


# =========================
# Panel C
# =========================
def draw_chart(c):
    X0, Y0, kx, ky = c["crop"]
    px = lambda z: X0 + z * kx
    py = lambda z: Y0 + z * ky
    zl, zr, zb, zt = c["box"]
    ax = px_axes(px(zl), py(zt), px(zr), py(zb))

    v1, z1, v2, z2 = c["xref"]
    per = (z2 - z1) / (v2 - v1)
    ax.set_xlim(v1 + (zl - z1) / per, v1 + (zr - z1) / per)
    yv, yz = c["yref"]
    ax.set_ylim(0, yv * (zb - zt) / (zb - yz))

    # blue stays on top like in the original traces
    for y, key in list(zip(c["ints"], c["c"]))[::-1]:
        ax.plot(c["rt"], y, color=LINE[key], lw=1.3, clip_on=False, zorder=3 if key == "b" else 2,
                solid_joinstyle="round")
    for b in c["bounds"]:
        ax.plot([b, b], [0, c["btop"]], color="#555555", lw=0.8, ls=(0, (1.5, 1)), zorder=1)
    ax.plot([c["arrow"][0]], [c["arrow"][1]], marker=[(-1, -.6), (1, 0), (-1, .6)], ms=8, color="black",
            mew=0, ls="none", clip_on=False, zorder=4)

    top_val, major, minor = c["yt"]
    yticks = np.arange(0, top_val + major / 2, major)
    ax.set_yticks(yticks)
    ax.set_yticklabels([f"{v:.10g}" for v in yticks])
    ax.yaxis.set_minor_locator(MultipleLocator(minor))
    ax.set_xticks(c["xt"])
    ax.xaxis.set_minor_locator(MultipleLocator(0.2))
    ax.tick_params(axis="y", which="major", direction="inout", length=6, width=0.8, labelsize=8, colors=INK, pad=4)
    ax.tick_params(axis="y", which="minor", direction="inout", length=3, width=0.6, colors=INK)
    ax.tick_params(axis="x", which="major", direction="out", length=3.5, width=0.8, labelsize=8, colors=INK, pad=5)
    ax.tick_params(axis="x", which="minor", direction="out", length=2, width=0.6, colors=INK)
    ax.patch.set_alpha(0)
    for side in ("top", "right"):
        ax.spines[side].set_visible(False)
    ax.spines["left"].set_linewidth(0.8)
    ax.spines["left"].set_color(INK)
    ax.spines["bottom"].set_linewidth(0.9)
    ax.spines["bottom"].set_color("#555555")

    over.text(px(c["xlab"][0]), py(c["xlab"][1]), "Retention Time", fontsize=7.5, color=INK, ha="center", va="center")
    over.text(px(c["ylab"][0]), py(c["ylab"][1]), "Intensity(10^6)", fontsize=9, color=INK, rotation=90,
              ha="center", va="center", fontweight="bold" if c.get("ybold") else "normal")

    for k, (ion, key) in enumerate(zip(c["ions"], c["c"])):
        col, row = k % 3, k // 3
        y = py(c["rows"][row])
        x = px(c["cols"][col])
        over.plot([x, x + 19], [y, y], color=LINE[key], lw=1.3, solid_capstyle="butt")
        over.text(px(c["txts"][col]), y, ion, fontsize=5.9, color=INK, ha="left", va="center")

    for text, zx, zy, key in c["notes"]:
        over.text(px(zx), py(zy), text, fontsize=6.2, color=NOTE[key], ha="center", va="center", linespacing=1.3)


def main():
    draw_pearson()
    draw_fold_change()
    for chart in charts:
        draw_chart(chart)
    for title, x, y in titles:
        over.text(x, y, title, fontsize=16.8, fontweight="bold", ha="center", va="center")
    fig.savefig("out.png", dpi=100)
    plt.close(fig)


if __name__ == "__main__":
    main()
